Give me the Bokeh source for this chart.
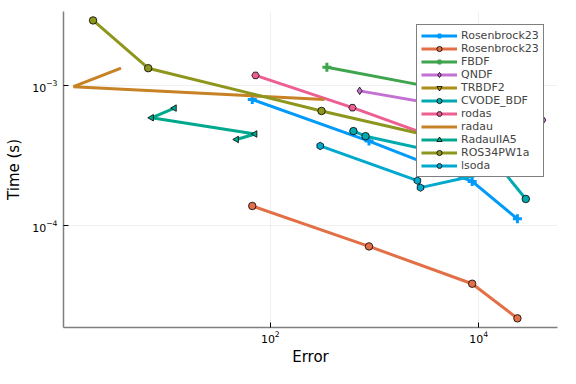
import numpy as np
from bokeh.plotting import figure
from bokeh.models import Range1d, FixedTicker, Legend, LegendItem
from bokeh.embed import file_html
from bokeh.resources import INLINE

# ---- data ----
rb_x = [67.1, 885, 8650, 23500]
rb1_y = [8.0e-4, 4.04e-4, 2.08e-4, 1.125e-4]
rb2_y = [1.39e-4, 7.15e-5, 3.87e-5, 2.19e-5]
fbdf_x = [349, 3760, 23900]
fbdf_y = [1.36e-3, 9.73e-4, 8.3e-4]
qndf_x = [720, 7210, 41750]
qndf_y = [9.23e-4, 6.84e-4, 5.71e-4]
trbdf2_x = [3760, 13870, 29700]
trbdf2_y = [1.70e-3, 1.34e-3, 1.05e-3]
cvode_x = [627, 820, 15500, 28300]
cvode_y = [4.76e-4, 4.38e-4, 2.71e-4, 1.56e-4]
rodas_x = [72.1, 614, 7230]
rodas_y = [1.19e-3, 7.0e-4, 3.61e-4]
radau_x = [3.69, 1.29, 331]
radau_y = [1.34e-3, 9.89e-4, 8.0e-4]
radauiia5_x = [12.0, 7.24, 71.3, 47.4]
radauiia5_y = [6.95e-4, 5.93e-4, 4.54e-4, 4.15e-4]
ros34_x = [1.99, 6.73, 310, 8980]
ros34_y = [2.94e-3, 1.34e-3, 6.63e-4, 3.73e-4]
lsoda_x = [301, 2580, 2760, 12600]
lsoda_y = [3.73e-4, 2.11e-4, 1.88e-4, 2.41e-4]

x_ticks = [1e2, 1e4]
y_ticks = [1e-4, 1e-3]

series = [
    ("Rosenbrock23", rb_x, rb1_y, "#009AFA", "cross", 0.0),
    ("Rosenbrock23", rb_x, rb2_y, "#E36F47", "circle", 0.0),
    ("FBDF", fbdf_x, fbdf_y, "#3EA44E", "cross", 0.0),
    ("QNDF", qndf_x, qndf_y, "#C371D2", "diamond", 0.0),
    ("TRBDF2", trbdf2_x, trbdf2_y, "#AC8E18", "inverted_triangle", 0.0),
    ("CVODE_BDF", cvode_x, cvode_y, "#00AAAE", "circle", 0.0),
    ("rodas", rodas_x, rodas_y, "#ED5E93", "hex", 0.0),
    ("radau", radau_x, radau_y, "#C68225", None, 0.0),
    ("RadauIIA5", radauiia5_x, radauiia5_y, "#00A98D", "triangle", np.pi / 2),
    ("ROS34PW1a", ros34_x, ros34_y, "#8E971D", "circle", 0.0),
    ("lsoda", lsoda_x, lsoda_y, "#00A9CD", "hex", np.pi / 2),
]

FONT = "DejaVu Sans"

p = figure(width=560, height=368, x_axis_type="log", y_axis_type="log",
           x_range=Range1d(10 ** 0.015, 10 ** 4.756),
           y_range=Range1d(10 ** -4.725, 10 ** -2.468),
           output_backend="svg", toolbar_location=None,
           x_axis_label="Error", y_axis_label="Time (s)")
p.min_border_left = 63
p.min_border_right = 3
p.min_border_top = 11
p.min_border_bottom = 40
p.outline_line_color = None
p.background_fill_color = "white"

for ax, ticks in ((p.xaxis[0], x_ticks), (p.yaxis[0], y_ticks)):
    ax.ticker = FixedTicker(ticks=ticks, minor_ticks=[])
    ax.major_tick_in = 5
    ax.major_tick_out = 0
    ax.minor_tick_in = 0
    ax.minor_tick_out = 0
    ax.axis_line_color = "#7f7f7f"
    ax.axis_line_width = 1.5
    ax.major_tick_line_color = "black"
    ax.major_label_text_font = FONT
    ax.major_label_text_font_size = "11px"
    ax.major_label_text_color = "black"
    ax.axis_label_text_font = FONT
    ax.axis_label_text_font_size = "15px"
    ax.axis_label_text_font_style = "normal"
    ax.axis_label_text_color = "black"

p.xaxis.major_label_standoff = 3
p.xaxis.axis_label_standoff = 2
p.yaxis.major_label_standoff = 6
p.yaxis.axis_label_standoff = 6

p.xgrid.ticker = FixedTicker(ticks=x_ticks, minor_ticks=[])
p.ygrid.ticker = FixedTicker(ticks=y_ticks, minor_ticks=[])
for g in (p.xgrid[0], p.ygrid[0]):
    g.grid_line_color = "black"
    g.grid_line_alpha = 0.1
    g.grid_line_width = 0.6

items = []
for label, xs, ys, col, marker, ang in series:
    rends = []
    ln = p.line(xs, ys, line_color=col, line_width=3)
    rends.append(ln)
    if marker is not None:
        if marker == "cross":
            sc = p.scatter(xs, ys, marker="cross", size=9, line_color=col, line_width=3)
        else:
            size = 6.5 if marker == "triangle" else 7.5
            sc = p.scatter(xs, ys, marker=marker, size=size, angle=ang,
                           fill_color=col, line_color="black", line_width=0.8)
        rends.append(sc)
    items.append(LegendItem(label=label, renderers=rends))

legend = Legend(items=items, location=(353, 150))
legend.label_text_font = FONT
legend.label_text_font_size = "11px"
legend.glyph_width = 36
legend.glyph_height = 13
legend.label_height = 13
legend.spacing = 0
legend.padding = 4
legend.margin = 0
legend.label_standoff = 4
legend.border_line_color = "black"
legend.border_line_width = 1
legend.background_fill_color = "white"
legend.background_fill_alpha = 1.0
p.add_layout(legend, "center")

open("out.html", "w").write(file_html(p, INLINE))
